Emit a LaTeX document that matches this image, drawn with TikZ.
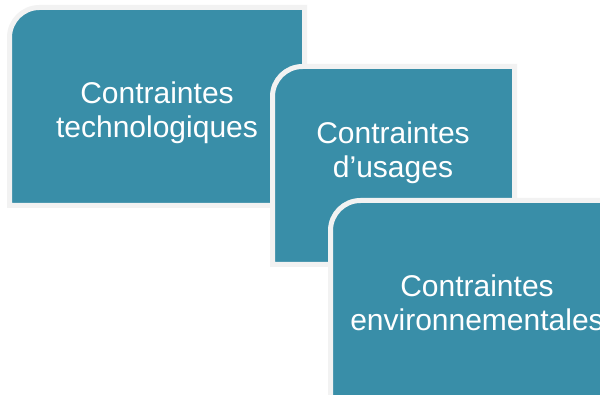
\documentclass[tikz,border=0pt]{standalone}
\usepackage{fontspec}
\setmainfont{Liberation Sans}
\definecolor{tealbox}{RGB}{57,142,168}
\definecolor{rimgray}{RGB}{242,242,242}
\tikzset{
  cardbox/.style={fill=tealbox, draw=rimgray, line width=5pt},
  cardtext/.style={text=white, align=center, inner sep=0pt, anchor=center,
    font=\fontsize{30}{34}\selectfont}
}
\begin{document}
\begin{tikzpicture}[x=1pt,y=-1pt]
  \useasboundingbox (0,0) rectangle (600,395);
  \clip (0,0) rectangle (600,395);
  \fill[white] (0,0) rectangle (600,395);
  % box 1
  \path[cardbox] (9.5,205.5) -- (9.5,37.5) arc[start angle=180,end angle=270,radius=30] -- (304.5,7.5) -- (304.5,205.5) -- cycle;
  \node[cardtext] (t1) at (157,112.5) {Contraintes\\technologiques};
  % box 2
  \path[cardbox] (272.5,264.5) -- (272.5,96.5) arc[start angle=180,end angle=270,radius=30] -- (514.5,66.5) -- (514.5,264.5) -- cycle;
  \node[cardtext] (t2) at (393,152.5) {Contraintes\\d’usages};
  % box 3
  \path[cardbox] (330.5,420) -- (330.5,230.5) arc[start angle=180,end angle=270,radius=30] -- (625,200.5) -- (625,420) -- cycle;
  \node[cardtext] (t3) at (477,302.5) {Contraintes\\environnementales};
\end{tikzpicture}
\end{document}
